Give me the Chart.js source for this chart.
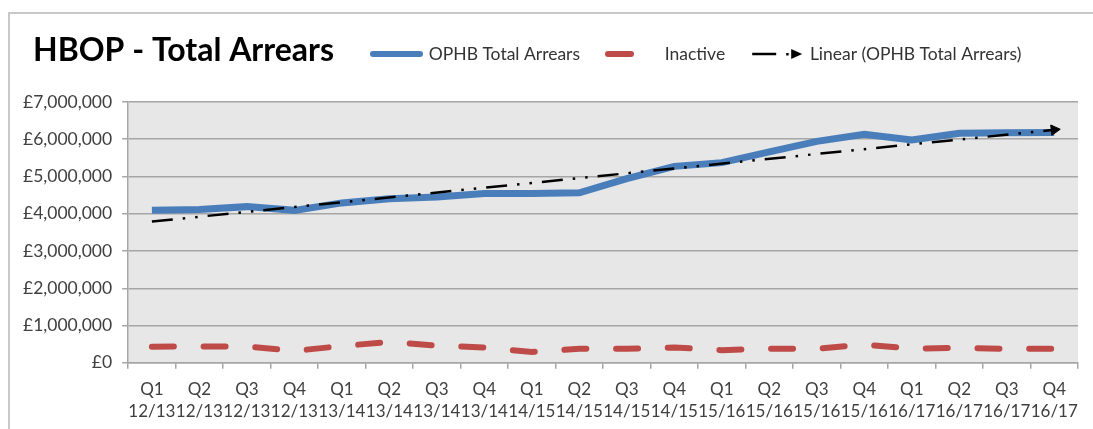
<!DOCTYPE html>
<html>
<head>
<meta charset="utf-8">
<script src="https://cdn.jsdelivr.net/npm/chart.js@4.4.1/dist/chart.umd.min.js"></script>
<style>
html, body { margin: 0; padding: 0; background: #fff; }
body { width: 1093px; height: 429px; position: relative; overflow: hidden; }
#frame { position: absolute; left: 8px; top: 12px; width: 1100px; height: 440px;
         border-left: 2px solid #c8c8c8; border-top: 2px solid #c8c8c8; }
#chart { position: absolute; left: 0; top: 0; }
</style>
</head>
<body>
<div id="frame"></div>
<canvas id="chart" width="1093" height="433"></canvas>
<script>
const quarters = ['Q1', 'Q2', 'Q3', 'Q4'];
const years = ['12/13', '13/14', '14/15', '15/16', '16/17'];
const ophbTotal = [4090000, 4110000, 4190000, 4090000, 4290000, 4400000, 4450000, 4540000, 4540000, 4560000,
                   4940000, 5270000, 5370000, 5660000, 5940000, 6130000, 5980000, 6160000, 6170000, 6180000];
const inactive = [430000, 440000, 440000, 320000, 450000, 560000, 460000, 410000, 290000, 375000,
                  375000, 410000, 340000, 375000, 375000, 490000, 380000, 400000, 375000, 375000];
const linearTrend = [3790000, null, null, null, null, null, null, null, null, null,
                     null, null, null, null, null, null, null, null, null, 6250000];
const yMin = 0, yMax = 7000000, yStep = 1000000;
const seriesNames = ['OPHB Total Arrears', 'Inactive', 'Linear (OPHB Total Arrears)'];

const labels = years.flatMap(y => quarters.map(q => [q, y]));

const BLUE = '#4a7ebb', RED = '#be4b48', GRID = '#a6a6a6', TEXT = '#404040';
const FONT = 'Lato, "Liberation Sans", sans-serif';
const LEGEND_PAD = 20, LEGEND_SIZE = 17.5, TITLE_SIZE = 32, TITLE_TOP = 16;

// little legend swatches drawn like the Excel ones
function swatch(draw) {
    let c = document.createElement('canvas');
    c.width = 64; c.height = 14;
    let g = c.getContext('2d');
    draw(g);
    return c;
}
const blueSwatch = swatch(g => {
    g.strokeStyle = BLUE; g.lineWidth = 6; g.lineCap = 'round';
    g.beginPath(); g.moveTo(13, 7); g.lineTo(60, 7); g.stroke();
});
const redSwatch = swatch(g => {
    g.strokeStyle = RED; g.lineWidth = 6; g.lineCap = 'round';
    g.beginPath(); g.moveTo(12, 7); g.lineTo(35, 7); g.stroke();
});
const trendSwatch = swatch(g => {
    g.strokeStyle = '#000'; g.fillStyle = '#000'; g.lineWidth = 2.5;
    g.beginPath(); g.moveTo(11, 7); g.lineTo(35, 7); g.stroke();
    g.fillRect(45, 6, 2.5, 2.5);
    g.beginPath(); g.moveTo(50, 2); g.lineTo(61, 7); g.lineTo(50, 12); g.closePath(); g.fill();
});
const swatches = [blueSwatch, redSwatch, trendSwatch];

const plotBackground = {
    id: 'plotBackground',
    beforeDraw(chart) {
        let {ctx, chartArea: a} = chart;
        ctx.save();
        ctx.fillStyle = '#e7e7e7';
        ctx.fillRect(a.left, a.top, a.right - a.left, a.bottom - a.top);
        ctx.restore();
    }
};

// put the title and the legend on one row, as in the Excel chart
function moveBox(box, dx, dy) {
    box.left += dx; box.right += dx; box.top += dy; box.bottom += dy;
}
const headerRow = {
    id: 'headerRow',
    afterLayout(chart) {
        let t = chart.titleBlock, l = chart.legend;
        moveBox(t, 33 - t.left, 51 - (t.top + TITLE_TOP + TITLE_SIZE * 0.6));
        moveBox(l, 364 - (l.left + LEGEND_PAD), 54 - (l.top + LEGEND_PAD + LEGEND_SIZE / 2));
    }
};

let ctx = document.getElementById('chart').getContext('2d');
let myChart = new Chart(ctx, {
    type: 'line',
    data: {
        labels: labels,
        datasets: [{
            label: seriesNames[0],
            data: ophbTotal,
            borderColor: BLUE,
            borderWidth: 7,
            pointRadius: 0,
            tension: 0,
            order: 1
        }, {
            label: seriesNames[1],
            data: inactive,
            borderColor: RED,
            borderWidth: 6,
            borderDash: [22, 29.7],
            borderCapStyle: 'round',
            pointRadius: 0,
            order: 2
        }, {
            label: seriesNames[2],
            data: linearTrend,
            borderColor: '#000',
            borderWidth: 2.5,
            borderDash: [21, 10, 2.5, 10, 2.5, 10],
            spanGaps: true,
            pointStyle: 'triangle',
            pointRotation: 84,
            pointRadius: c => c.dataIndex === linearTrend.length - 1 ? 6 : 0,
            pointBackgroundColor: '#000',
            pointBorderColor: '#000',
            pointBorderWidth: 1,
            order: 0
        }]
    },
    options: {
        responsive: false,
        animation: false,
        layout: { padding: { left: 13, right: 15, top: 0, bottom: 0 } },
        plugins: {
            title: {
                display: true,
                text: 'HBOP - Total Arrears',
                align: 'start',
                color: '#000',
                font: { family: FONT, size: TITLE_SIZE, weight: 'bold' },
                padding: { top: TITLE_TOP, bottom: 0 }
            },
            legend: {
                display: true,
                align: 'start',
                labels: {
                    usePointStyle: true,
                    pointStyleWidth: 56,
                    padding: LEGEND_PAD,
                    color: '#333',
                    font: { family: FONT, size: LEGEND_SIZE },
                    generateLabels: chart => chart.data.datasets.map((ds, i) => ({
                        text: ds.label,
                        pointStyle: swatches[i],
                        fillStyle: 'transparent',
                        strokeStyle: 'transparent',
                        lineWidth: 0,
                        fontColor: '#333',
                        datasetIndex: i,
                        hidden: false
                    }))
                }
            },
            tooltip: { enabled: false }
        },
        scales: {
            x: {
                offset: true,
                grid: { offset: true, drawOnChartArea: false, drawTicks: true, tickLength: 6, color: GRID, lineWidth: 1.5 },
                border: { color: GRID, width: 1.5 },
                ticks: {
                    autoSkip: false, maxRotation: 0, minRotation: 0, padding: 10,
                    color: TEXT, font: { family: FONT, size: 17, lineHeight: 1.3 }
                }
            },
            y: {
                min: yMin, max: yMax,
                grid: { color: GRID, lineWidth: 1.5, tickLength: 6 },
                border: { color: GRID, width: 1.5 },
                ticks: {
                    stepSize: yStep, padding: 10, color: TEXT,
                    font: { family: FONT, size: 17.5 },
                    callback: v => '£' + v.toLocaleString('en-GB')
                }
            }
        }
    },
    plugins: [plotBackground, headerRow]
});
</script>
</body>
</html>
